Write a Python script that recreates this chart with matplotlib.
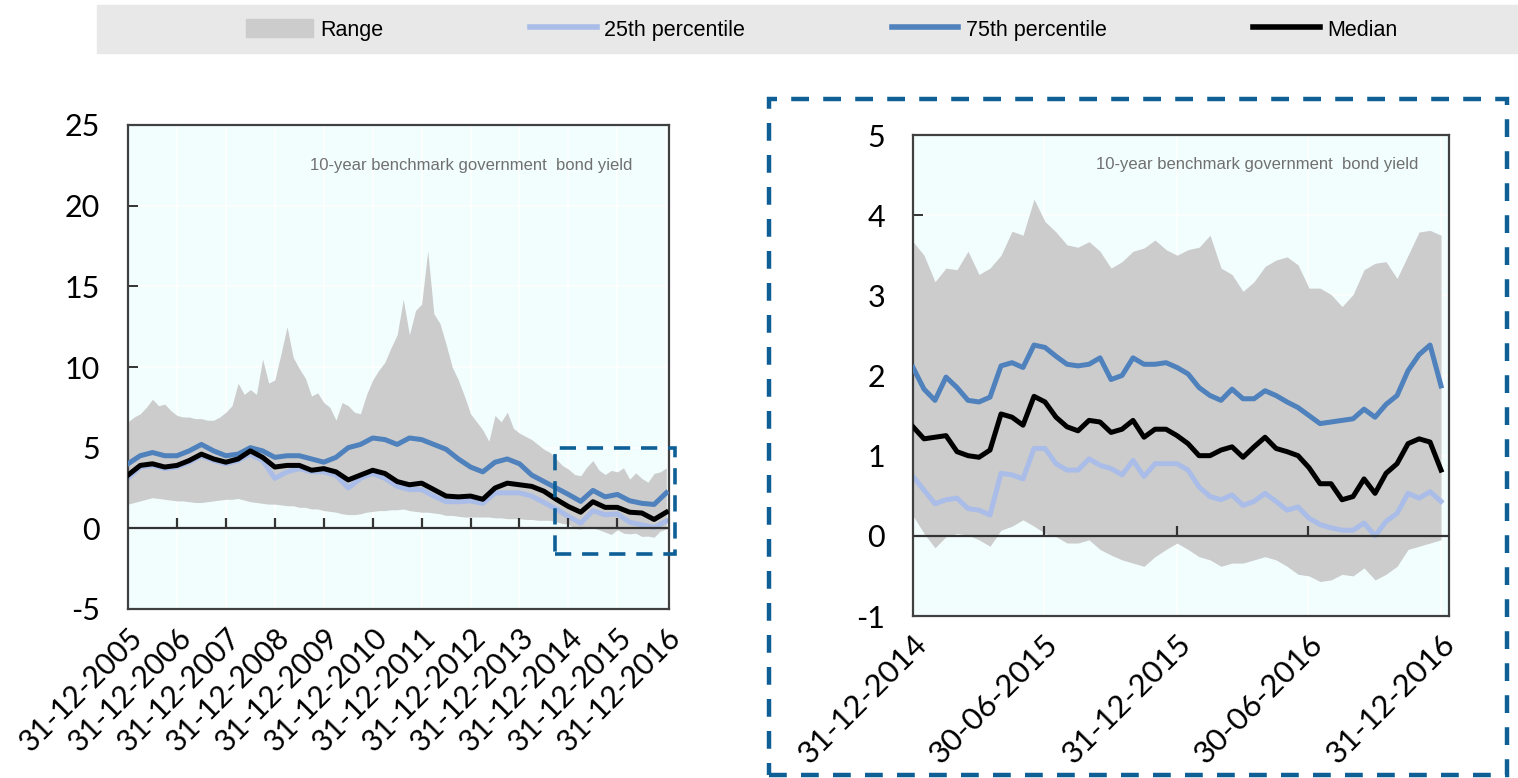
import numpy as np
import pandas as pd
import matplotlib
matplotlib.use('Agg')
import matplotlib.pyplot as plt
from matplotlib.patches import Rectangle, Patch
from matplotlib.lines import Line2D

plt.rcParams['axes.unicode_minus'] = False

# ---- 2006-2016: percentiles every quarter, range every 1.5 months ----
long_p25 = [3.1, 3.8, 3.9, 3.7, 3.8, 4.1, 4.5, 4.2, 4.0, 4.2, 4.6, 4.2, 3.1, 3.5, 3.7,
            3.5, 3.5, 3.3, 2.5, 3.1, 3.4, 3.1, 2.6, 2.4, 2.4, 2.0, 1.65, 1.65, 1.7, 1.55,
            2.2, 2.2, 2.2, 2.0, 1.6, 1.2, 0.74, 0.32, 1.09, 0.84, 0.9, 0.38, 0.22, 0.05, 0.45]
long_p75 = [4.0, 4.5, 4.7, 4.5, 4.5, 4.8, 5.2, 4.8, 4.5, 4.6, 5.0, 4.8, 4.4, 4.5, 4.5,
            4.3, 4.1, 4.4, 5.0, 5.2, 5.6, 5.5, 5.2, 5.6, 5.5, 5.2, 4.9, 4.3, 3.8, 3.5,
            4.1, 4.3, 4.0, 3.3, 2.9, 2.5, 2.1, 1.67, 2.35, 1.95, 2.1, 1.71, 1.55, 1.48, 2.2]
long_median = [3.3, 3.9, 4.0, 3.8, 3.9, 4.2, 4.6, 4.3, 4.1, 4.3, 4.8, 4.4, 3.8, 3.9, 3.9,
               3.6, 3.7, 3.5, 3.0, 3.3, 3.6, 3.4, 2.9, 2.7, 2.8, 2.4, 2.0, 1.95, 2.0, 1.8,
               2.5, 2.8, 2.7, 2.6, 2.3, 1.8, 1.35, 1.0, 1.65, 1.3, 1.3, 1.0, 0.95, 0.55, 1.0]
long_max = [6.6, 6.9, 7.1, 7.5, 8.0, 7.6, 7.7, 7.3, 7.0, 6.9, 6.9, 6.8, 6.8, 6.7, 6.7,
            6.9, 7.2, 7.6, 9.0, 8.3, 8.6, 8.3, 10.5, 9.0, 9.2, 10.8, 12.5, 10.6, 9.9, 9.3,
            8.2, 8.4, 7.8, 7.5, 6.7, 7.8, 7.6, 7.2, 7.1, 8.3, 9.2, 9.8, 10.3, 11.2, 12.0,
            14.2, 12.0, 13.5, 13.9, 17.2, 13.3, 12.7, 11.4, 10.0, 9.2, 8.2, 7.1, 6.6, 6.1,
            5.4, 7.0, 6.6, 7.2, 6.2, 5.9, 5.7, 5.5, 5.2, 4.9, 4.7, 4.3, 3.9, 3.67, 3.34,
            3.26, 3.8, 4.2, 3.6, 3.34, 3.59, 3.5, 3.75, 3.05, 3.44, 3.09, 2.86, 3.4, 3.5, 3.75]
long_min = [1.5, 1.6, 1.7, 1.8, 1.9, 1.85, 1.8, 1.75, 1.7, 1.7, 1.65, 1.6, 1.6, 1.65, 1.7,
            1.75, 1.8, 1.8, 1.85, 1.75, 1.65, 1.6, 1.55, 1.5, 1.5, 1.45, 1.4, 1.4, 1.3, 1.3,
            1.2, 1.2, 1.1, 1.05, 1.0, 0.9, 0.85, 0.85, 0.9, 1.0, 1.05, 1.1, 1.1, 1.15, 1.15,
            1.2, 1.1, 1.05, 1.0, 1.0, 0.95, 0.9, 0.8, 0.8, 0.75, 0.7, 0.7, 0.7, 0.7,
            0.7, 0.65, 0.65, 0.6, 0.6, 0.6, 0.55, 0.55, 0.5, 0.5, 0.5, 0.4, 0.3, 0.25, -0.01,
            -0.05, 0.12, 0.03, -0.09, -0.24, -0.38, -0.09, -0.30, -0.34, -0.30, -0.50, -0.48,
            -0.55, -0.17, -0.05]
long_ticks = ['31-12-2005', '31-12-2006', '31-12-2007', '31-12-2008', '31-12-2009',
              '31-12-2010', '31-12-2011', '31-12-2012', '31-12-2013', '31-12-2014',
              '31-12-2015', '31-12-2016']

# ---- 2015-2016: half-monthly ----
short_p25 = [0.74, 0.57, 0.40, 0.45, 0.47, 0.34, 0.32, 0.26, 0.78, 0.76, 0.71, 1.09, 1.09,
             0.90, 0.82, 0.82, 0.96, 0.88, 0.84, 0.76, 0.94, 0.74, 0.90, 0.90, 0.90,
             0.82, 0.61, 0.49, 0.45, 0.51, 0.38, 0.43, 0.53, 0.43, 0.32, 0.36, 0.22,
             0.14, 0.10, 0.07, 0.07, 0.16, 0.00, 0.18, 0.28, 0.53, 0.47, 0.55, 0.43]
short_p75 = [2.10, 1.83, 1.69, 1.98, 1.85, 1.69, 1.67, 1.73, 2.12, 2.16, 2.10, 2.38, 2.35,
             2.24, 2.14, 2.12, 2.14, 2.22, 1.95, 2.00, 2.22, 2.14, 2.14, 2.16, 2.10,
             2.02, 1.85, 1.75, 1.69, 1.83, 1.71, 1.71, 1.81, 1.75, 1.67, 1.60, 1.50,
             1.40, 1.42, 1.44, 1.46, 1.58, 1.48, 1.64, 1.75, 2.06, 2.26, 2.38, 1.87]
short_median = [1.36, 1.21, 1.23, 1.25, 1.05, 1.00, 0.98, 1.07, 1.52, 1.48, 1.38, 1.74, 1.67,
                1.48, 1.36, 1.31, 1.44, 1.42, 1.29, 1.33, 1.44, 1.23, 1.33, 1.33, 1.25,
                1.15, 1.00, 1.00, 1.07, 1.11, 0.98, 1.11, 1.23, 1.09, 1.05, 1.00, 0.85,
                0.65, 0.65, 0.45, 0.49, 0.71, 0.53, 0.78, 0.90, 1.15, 1.21, 1.17, 0.82]
short_max = [3.67, 3.50, 3.17, 3.34, 3.32, 3.55, 3.26, 3.34, 3.50, 3.80, 3.75, 4.20, 3.92,
             3.79, 3.63, 3.60, 3.67, 3.55, 3.34, 3.42, 3.55, 3.59, 3.69, 3.57, 3.50,
             3.57, 3.60, 3.75, 3.34, 3.26, 3.05, 3.17, 3.36, 3.44, 3.48, 3.38, 3.09,
             3.09, 3.01, 2.86, 3.01, 3.32, 3.40, 3.42, 3.21, 3.50, 3.79, 3.81, 3.75]
short_min = [0.25, 0.03, -0.15, -0.01, 0.03, 0.01, -0.05, -0.13, 0.07, 0.12, 0.20, 0.12, 0.03,
             -0.01, -0.09, -0.09, -0.05, -0.17, -0.24, -0.30, -0.34, -0.38, -0.26, -0.17, -0.09,
             -0.17, -0.26, -0.30, -0.38, -0.34, -0.34, -0.30, -0.26, -0.30, -0.38, -0.48, -0.50,
             -0.57, -0.55, -0.48, -0.50, -0.40, -0.55, -0.48, -0.38, -0.17, -0.13, -0.09, -0.05]
short_ticks = ['31-12-2014', '30-06-2015', '31-12-2015', '30-06-2016', '31-12-2016']

RANGE_C = '#cccccc'
P25_C = '#a9bde8'
P75_C = '#4f81bd'
MED_C = 'black'
BG_C = '#f2fefe'
BOX_C = '#0d5f96'
NUM_FONT = ['Lato', 'DejaVu Sans']
TXT_FONT = ['Liberation Sans', 'DejaVu Sans']
NOTE = '10-year benchmark government  bond yield'


def draw_panel(ax, dates, range_dates, lo, hi, p25, p75, med, ticks, ylim, tick_h,
               note_xy, xsize):
    ax.set_facecolor(BG_C)
    ax.fill_between(range_dates, lo, hi, color=RANGE_C, lw=0, zorder=1)
    ax.plot(dates, p25, color=P25_C, lw=3.6, zorder=2)
    ax.plot(dates, p75, color=P75_C, lw=3.6, zorder=3)
    ax.plot(dates, med, color=MED_C, lw=3.6, zorder=4)
    ax.axhline(0, color='#333333', lw=1.6, zorder=5)

    tick_dates = pd.to_datetime(ticks, format='%d-%m-%Y')
    # short tick marks standing on the zero line
    ax.vlines(tick_dates[1:-1], 0, tick_h, color='#333333', lw=1.6, zorder=5)
    ax.set_xticks(tick_dates)
    ax.set_xticklabels(ticks, rotation=45, ha='right', rotation_mode='anchor',
                       family=NUM_FONT, fontsize=xsize)
    ax.tick_params(axis='x', length=0, pad=10)
    ax.tick_params(axis='y', direction='in', length=7, width=1.4, color='#333333',
                   labelsize=22, pad=20)
    for lab in ax.get_yticklabels():
        lab.set_family(NUM_FONT)
    ax.set_ylim(*ylim)
    ax.grid(color='white', lw=1.2, zorder=0)
    ax.set_axisbelow(True)
    for sp in ax.spines.values():
        sp.set_color('#404040')
        sp.set_linewidth(1.6)
    ax.text(note_xy[0], note_xy[1], NOTE, transform=ax.transAxes, ha='right', va='center',
            color='#707070', fontsize=12, family=TXT_FONT)


fig = plt.figure(figsize=(15.18, 7.78), dpi=100)

# left: full period
ax1 = fig.add_axes([128 / 1518, 1 - 609 / 778, 541 / 1518, 484 / 778])
long_dates = pd.date_range('2005-12-31', '2016-12-31', periods=len(long_p75))
long_rdates = pd.date_range('2005-12-31', '2016-12-31', periods=len(long_max))
draw_panel(ax1, long_dates, long_rdates, long_min, long_max, long_p25, long_p75,
           long_median, long_ticks, (-5, 25), 0.65, (0.932, 0.917), 21.5)
ax1.set_yticks([-5, 0, 5, 10, 15, 20, 25])
ax1.set_xlim(pd.Timestamp('2005-12-31'), pd.Timestamp('2017-01-20'))

# zoom window marker
x0 = pd.Timestamp('2014-09-20')
x1 = pd.Timestamp('2017-03-05')
ax1.add_patch(Rectangle((x0, -1.6), x1 - x0, 6.6, fill=False, ec=BOX_C, lw=2.6,
                        ls=(0, (4.5, 3)), clip_on=False, zorder=6))

# right: 2015-2016
ax2 = fig.add_axes([913 / 1518, 1 - 616 / 778, 536 / 1518, 481 / 778])
short_dates = pd.date_range('2014-12-31', '2016-12-31', periods=len(short_p75))
draw_panel(ax2, short_dates, short_dates, short_min, short_max, short_p25, short_p75,
           short_median, short_ticks, (-1, 5), 0.12, (0.942, 0.938), 22.5)
ax2.set_yticks([-1, 0, 1, 2, 3, 4, 5])
ax2.set_xlim(pd.Timestamp('2014-12-31'), pd.Timestamp('2017-01-11'))

# dashed frame round the right panel
fig.patches.append(Rectangle((769 / 1518, 3 / 778), 738 / 1518, 676 / 778, fill=False,
                             ec=BOX_C, lw=3.2, ls=(0, (4, 3.2)),
                             transform=fig.transFigure, zorder=0))

# legend band
fig.patches.append(Rectangle((97 / 1518, 1 - 53 / 778), 1421 / 1518, 48 / 778,
                             color='#e8e8e8', transform=fig.transFigure, zorder=0))
handles = [Patch(color=RANGE_C),
           Line2D([], [], color=P25_C, lw=4),
           Line2D([], [], color=P75_C, lw=4),
           Line2D([], [], color=MED_C, lw=4)]
labels = ['Range', '25th percentile', '75th percentile', 'Median']
fig.legend(handles, labels, loc='center', bbox_to_anchor=(822 / 1518, 1 - 30 / 778),
           ncol=4, frameon=False, handlelength=3.1, handleheight=0.9, handletextpad=0.35,
           columnspacing=6.8, prop={'family': TXT_FONT, 'size': 15.5})

fig.savefig('out.png', dpi=100)
